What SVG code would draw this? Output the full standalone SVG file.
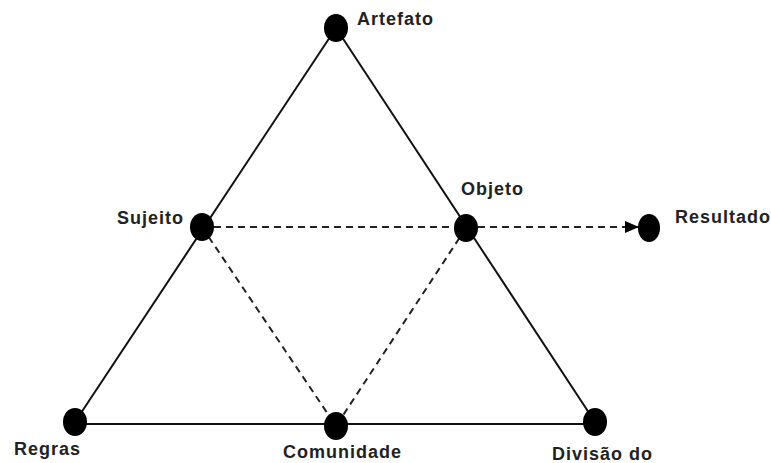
<svg xmlns="http://www.w3.org/2000/svg" width="771" height="463" viewBox="0 0 771 463">
<style>
.solid{stroke:#111;stroke-width:2;fill:none}
.dash{stroke:#222;stroke-width:2;fill:none;stroke-dasharray:7,5}
.dot{fill:#000}
.lbl{font-family:"Liberation Sans",Arial,sans-serif;font-weight:bold;font-size:18px;letter-spacing:1px;fill:#222}
</style>
<defs>
<marker id="arr" markerWidth="14" markerHeight="12" refX="14" refY="6" orient="auto" markerUnits="userSpaceOnUse" viewBox="0 0 14 12">
<path d="M0,0 L14,6 L0,12 Z" fill="#000"/>
</marker>
</defs>
<g id="connectors">
<line class="solid" x1="336" y1="28" x2="75" y2="422"/>
<line class="solid" x1="336" y1="28" x2="595" y2="422"/>
<line class="solid" x1="75" y1="424" x2="595" y2="424"/>
<line class="dash" x1="202" y1="227" x2="336" y2="426"/>
<line class="dash" x1="466" y1="228" x2="336" y2="426"/>
<line class="dash" x1="202" y1="227" x2="639" y2="227" marker-end="url(#arr)"/>
</g>
<g id="artefato"><ellipse class="dot" cx="336" cy="28" rx="12" ry="14"/><text class="lbl" x="357" y="25">Artefato</text></g>
<g id="sujeito"><ellipse class="dot" cx="202" cy="227" rx="12" ry="14"/><text class="lbl" x="184" y="224" text-anchor="end">Sujeito</text></g>
<g id="objeto"><ellipse class="dot" cx="466" cy="228" rx="12" ry="14"/><text class="lbl" x="461" y="195">Objeto</text></g>
<g id="resultado"><ellipse class="dot" cx="649" cy="228" rx="11" ry="14"/><text class="lbl" x="675" y="223">Resultado</text></g>
<g id="regras"><ellipse class="dot" cx="75" cy="422" rx="12" ry="14"/><text class="lbl" x="14" y="455">Regras</text></g>
<g id="comunidade"><ellipse class="dot" cx="336" cy="426" rx="12" ry="14"/><text class="lbl" x="283" y="458">Comunidade</text></g>
<g id="divisao"><ellipse class="dot" cx="595" cy="422" rx="12" ry="14"/><text class="lbl" x="552" y="460">Divisão do</text></g>
</svg>
